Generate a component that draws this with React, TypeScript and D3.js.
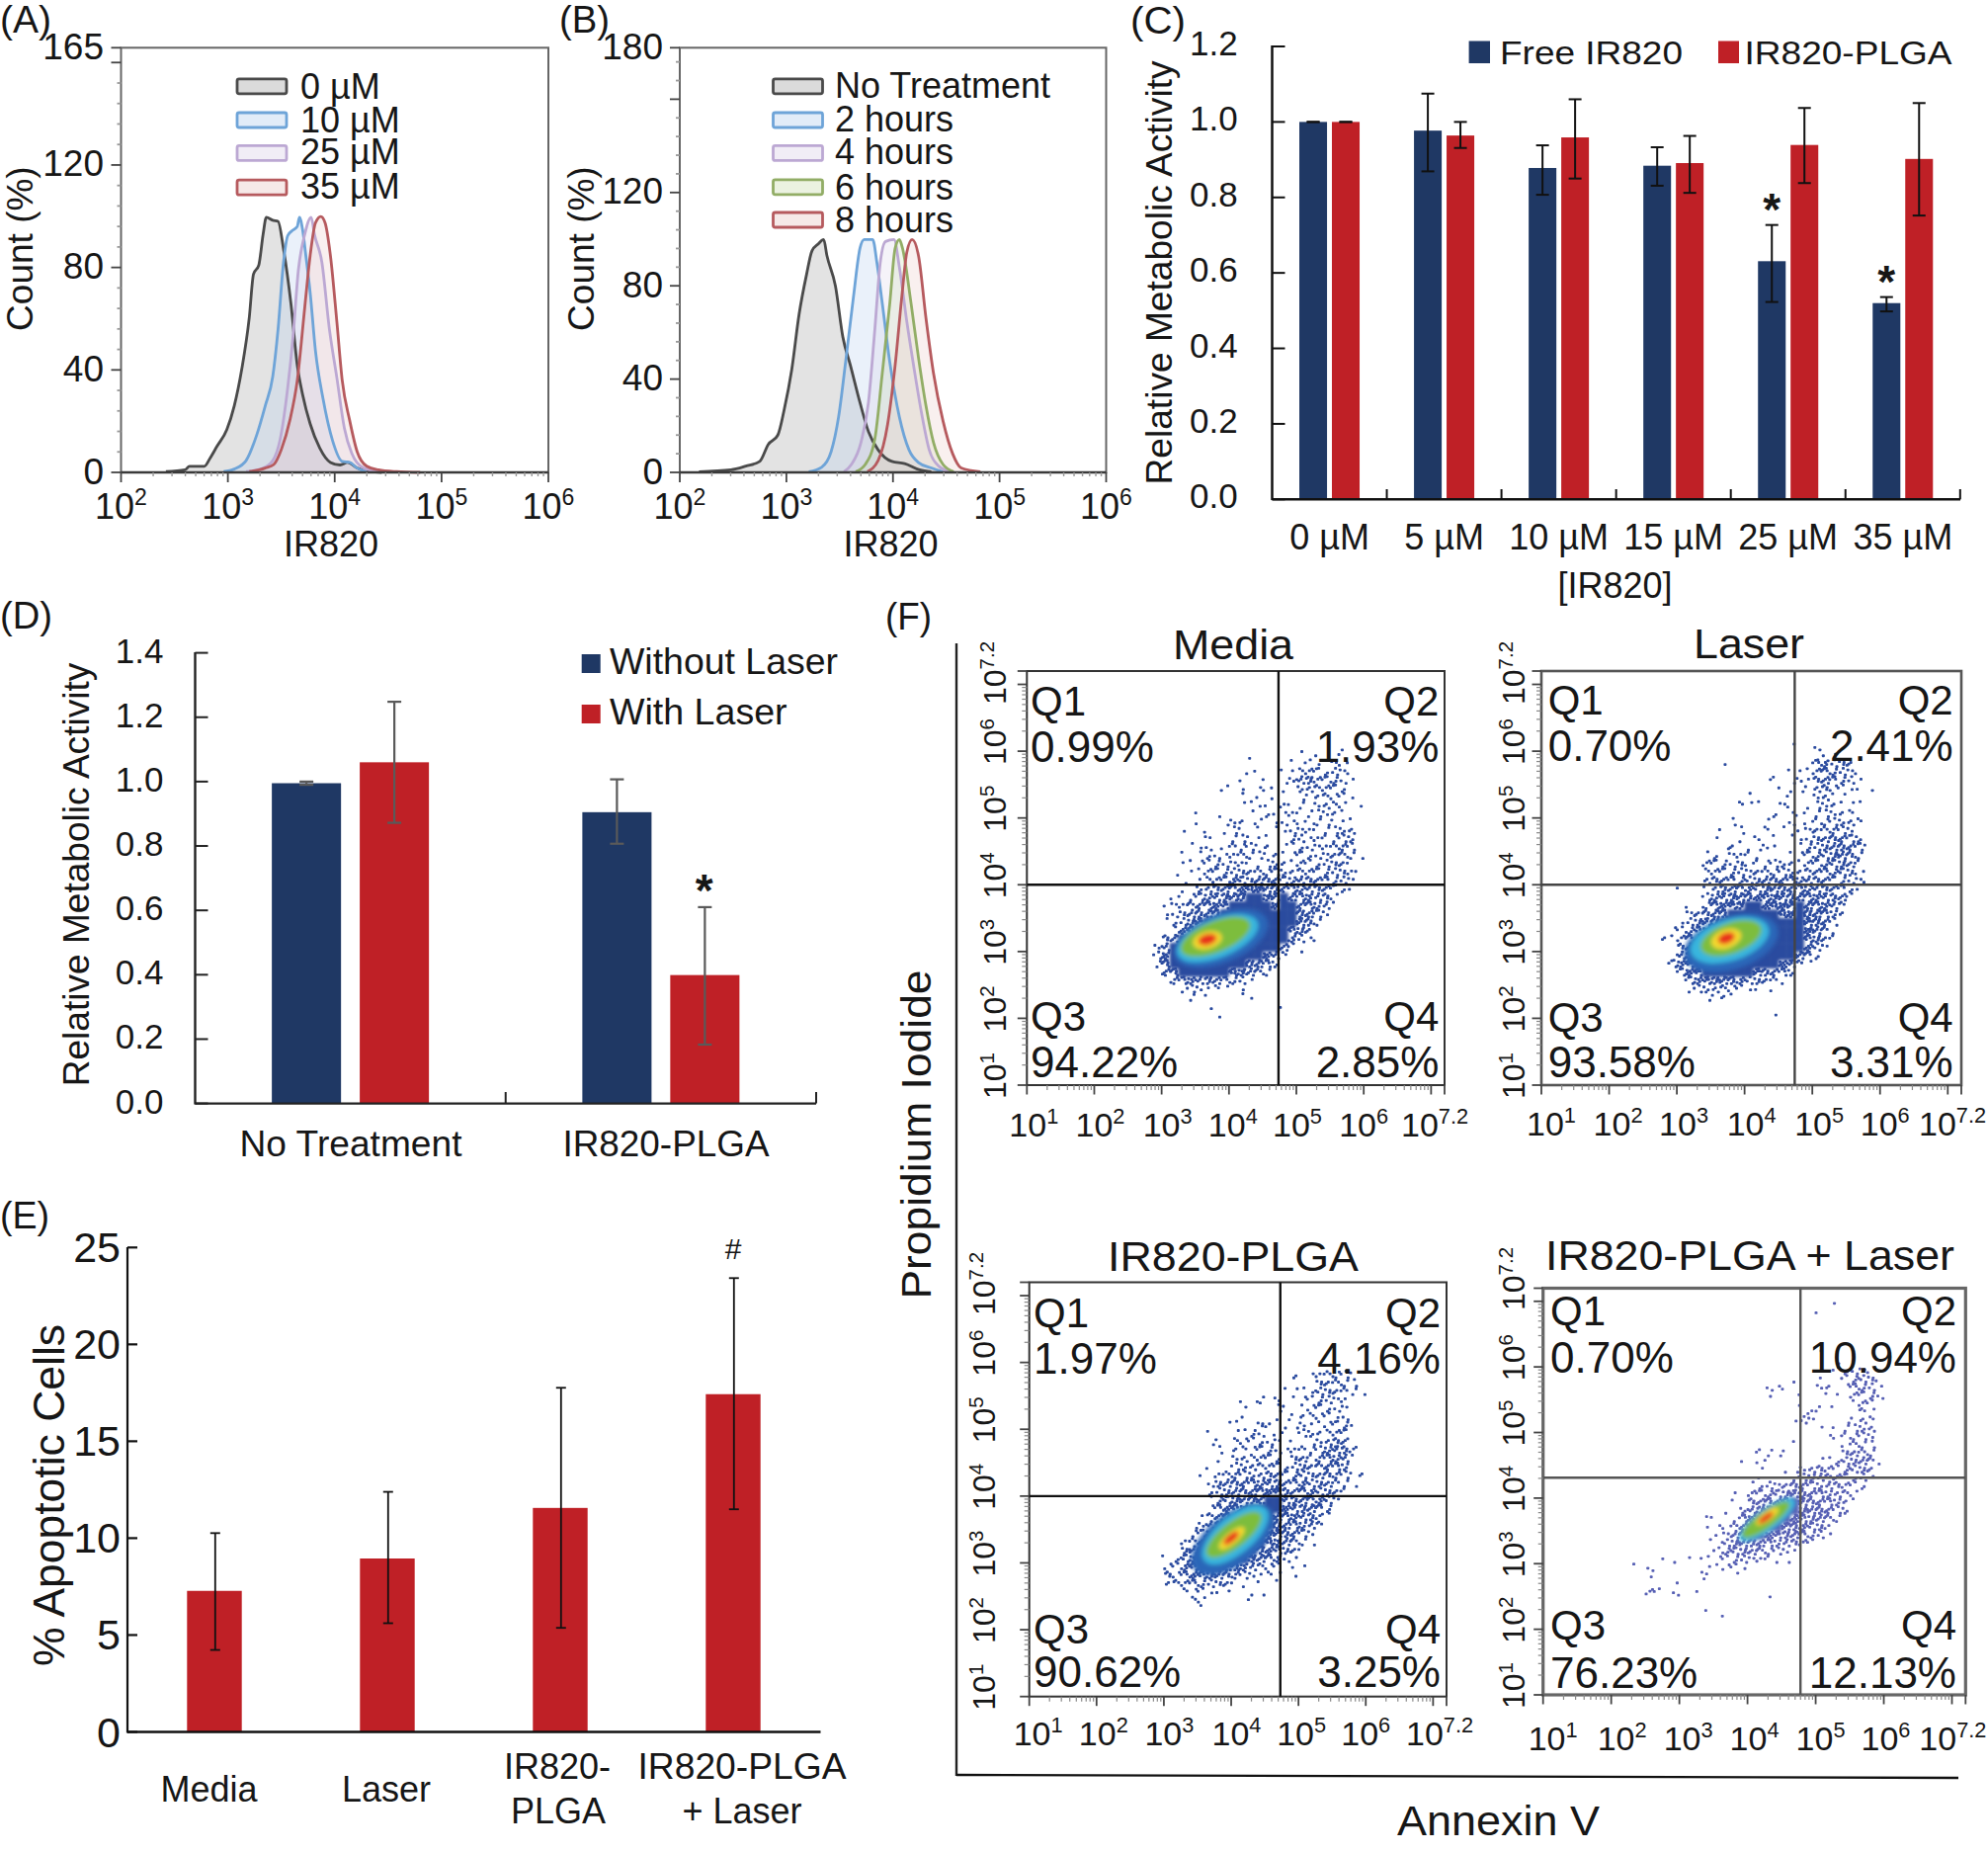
import React from 'react';
import * as d3 from 'd3';

// ---------- (A) histogram curves: [log10 IR820, count %] ----------
const histA0: number[][] = [[2.42,.3],[2.6,1],[2.64,2.4],[2.78,2.4],[2.83,5.3],[2.9,10.3],[2.99,16.7],[3.06,26],[3.13,40.3],[3.2,60.3],[3.24,77.4],[3.29,81],[3.33,93],[3.36,99.6],[3.42,98.4],[3.47,98],[3.52,87.4],[3.59,66],[3.65,41.7],[3.7,30.3],[3.77,19],[3.86,9.5],[3.96,3.9],[4.05,2.9],[4.12,3.9],[4.21,1.7],[4.34,.3],[4.44,0]];
const histA10: number[][] = [[2.96,.3],[3.06,1.3],[3.17,4.6],[3.27,14.6],[3.35,26],[3.42,37.4],[3.47,56],[3.52,81.7],[3.56,92.4],[3.61,94.6],[3.65,96],[3.67,99.6],[3.7,94.6],[3.73,84.6],[3.77,70.3],[3.82,47.4],[3.89,28.9],[3.98,12.4],[4.07,4.3],[4.14,3.9],[4.21,1.7],[4.3,.3]];
const histA25: number[][] = [[3.17,.3],[3.31,1.3],[3.42,4.6],[3.49,13],[3.56,33],[3.61,53],[3.66,79],[3.72,93],[3.78,99.6],[3.81,93],[3.88,82],[3.95,56],[4.02,37],[4.09,17.4],[4.16,7.4],[4.27,1.7],[4.41,.3]];
const histA35: number[][] = [[3.2,.3],[3.35,1.7],[3.43,3.1],[3.5,8.9],[3.58,20.3],[3.65,36],[3.72,64.6],[3.77,84.6],[3.82,97.4],[3.87,99.9],[3.91,97.4],[3.96,84.6],[4.02,58.9],[4.07,36],[4.14,20.3],[4.21,8.1],[4.3,2.4],[4.41,1],[4.58,.3],[4.8,0]];
const legendA = ['0 µM', '10 µM', '25 µM', '35 µM'];

// ---------- (B) histogram curves ----------
const histBNone: number[][] = [[2.18,.3],[2.48,1.1],[2.62,2.7],[2.75,4.7],[2.83,12],[2.92,16],[2.98,27],[3.05,44],[3.12,68],[3.19,85],[3.24,95],[3.3,98],[3.35,99.8],[3.38,93],[3.46,80],[3.53,58],[3.6,46],[3.69,30],[3.77,17.5],[3.86,9.7],[3.99,4.7],[4.11,3.8],[4.25,1.1],[4.36,.3]];
const histB2: number[][] = [[3.21,.3],[3.33,2.2],[3.42,8.9],[3.49,23.8],[3.56,49],[3.63,75.5],[3.69,96],[3.73,99.8],[3.81,99.8],[3.85,89.7],[3.9,72.4],[3.97,47.3],[4.06,23.8],[4.15,9.7],[4.24,4.2],[4.36,1.9],[4.47,.3]];
const histB4: number[][] = [[3.54,.3],[3.61,3.4],[3.7,12.9],[3.77,30],[3.83,61.4],[3.88,89.7],[3.93,99],[4.01,99.8],[4.06,88],[4.13,64.6],[4.2,44],[4.27,25],[4.34,9.7],[4.43,2.7],[4.54,.3]];
const histB6: number[][] = [[3.65,.3],[3.74,3.4],[3.83,14.4],[3.9,42.6],[3.97,72.4],[4.02,96],[4.06,99.8],[4.09,96],[4.17,72.4],[4.24,49],[4.31,28.5],[4.38,12.9],[4.47,3.4],[4.57,.3]];
const histB8: number[][] = [[3.76,.3],[3.86,5],[3.95,20.7],[4.02,45.8],[4.08,74],[4.13,94.4],[4.18,99.8],[4.24,92.8],[4.31,66],[4.38,42.6],[4.47,22],[4.56,8],[4.64,1.9],[4.82,.3]];
const legendB = ['No Treatment', '2 hours', '4 hours', '6 hours', '8 hours'];

// ---------- (C) ----------
const catsC = ['0 µM', '5 µM', '10 µM', '15 µM', '25 µM', '35 µM'];
const freeIR = [1.0, 0.977, 0.878, 0.884, 0.631, 0.52];
const freeHi = [1.0, 1.075, 0.938, 0.933, 0.727, 0.536];
const freeLo = [1.0, 0.869, 0.807, 0.831, 0.523, 0.498];
const plgaIR = [1.0, 0.964, 0.959, 0.891, 0.939, 0.902];
const plgaHi = [1.0, 1.0, 1.06, 0.963, 1.037, 1.05];
const plgaLo = [1.0, 0.931, 0.85, 0.812, 0.838, 0.752];
const ticksC = [0, 0.2, 0.4, 0.6, 0.8, 1.0, 1.2];

// ---------- (D) ----------
const catsD = ['No Treatment', 'IR820-PLGA'];
const noLaser = [0.995, 0.905];
const noLaserHi = [1.0, 1.007];
const noLaserLo = [0.99, 0.807];
const withLaser = [1.06, 0.399];
const withLaserHi = [1.248, 0.61];
const withLaserLo = [0.872, 0.183];
const ticksD = [0, 0.2, 0.4, 0.6, 0.8, 1.0, 1.2, 1.4];

// ---------- (E) ----------
const catsE = ['Media', 'Laser', 'IR820-PLGA', 'IR820-PLGA + Laser'];
const apop = [7.28, 8.95, 11.56, 17.43];
const apopHi = [10.26, 12.39, 17.76, 23.42];
const apopLo = [4.23, 5.61, 5.37, 11.49];
const ticksE = [0, 5, 10, 15, 20, 25];

// ---------- (F) ----------
const flowTitles = ['Media', 'Laser', 'IR820-PLGA', 'IR820-PLGA + Laser'];
const flowPct = [
  ['0.99%', '1.93%', '94.22%', '2.85%'],
  ['0.70%', '2.41%', '93.58%', '3.31%'],
  ['1.97%', '4.16%', '90.62%', '3.25%'],
  ['0.70%', '10.94%', '76.23%', '12.13%'],
];
const flowExp = [1, 2, 3, 4, 5, 6, 7.2];
const gateX = [4.735, 4.74, 4.73, 4.777];
const gateY = [4.0, 4.0, 4.0, 4.31];
// Density in 1/8-decade cells: '.' none, 1-9 dots in the cell, '#' solid.
const gridOrigin = [[2.875, 6.125], [2.75, 6.125], [2.75, 5.875], [2.25, 7.0]];
const gridMedia = [
  '......................1',
  '...........1.....1.1..1',
  '................1.21.211',
  '...........11..112332321',
  '..........1..1.125633421',
  '........2.1.1111.333332',
  '..........1.1.1..1123221',
  '..........1111.212.2322.1',
  '.....1.1...1.2112122221',
  '.....1..122.2.1211131111',
  '...1..1.121.1.1122212233',
  '......2..22111..33122233',
  '....112.132312.112222343',
  '...1.12212332121132223431',
  '...111232221123213223331',
  '..1.113333333343233333321',
  '...1.1233553555445444332',
  '...1.3345578866555544321',
  '..112456679##77#756442',
  '.12245677#####8##56541',
  '.1235678#########7642',
  '.12368###########763',
  '..168###########763',
  '.46#############5311',
  '25#############52',
  '37###########752.1',
  '27#########8753',
  '.57######87543',
  '..4565654431',
  '...132121.1',
  '....2.1...11',
  '......1........1',
  '.......1',
];
const gridLaser = [
  '...............1..2',
  '...................11',
  '.......1..........45333',
  '...............111354321',
  '.............2.121454331',
  '..............1111342211.1',
  '..........1....1..2311',
  '.........211..21.1222111',
  '.............2.11122222',
  '........2...1..2.1233332',
  '.......1.2..2.1.1233432',
  '......1..1.2.1.112345543',
  '........3.1121..133456541',
  '.....12.2221...113445653',
  '.....3332312233213345542',
  '.....23333233333234445411',
  '.....34443445555554433221',
  '..1..1355555566655544421',
  '.....356677777777666552',
  '...1.36788##8888#76653',
  '...23578######88#87642',
  '..13578##########8753',
  '.12468###########8641',
  '21358############7632',
  '..46#############642',
  '..57############752',
  '.468##########8631',
  '..478######86553',
  '...467777544331',
  '...133332211.1',
  '.....1121',
  '',
  '.............1',
];
const gridPlga = [
  '.................2.123331',
  '....................33332',
  '................1111433321',
  '...........1.3.2.1123322',
  '...........1...21.123222',
  '...........1...111222212',
  '.........11..32.112112331',
  '.......1..1132.11.332233',
  '.......11.222222.1.12344',
  '........2.221332123235653',
  '........1.232332.34245551',
  '.......1..33333323434554',
  '......1.234333443343454312',
  '.......245555566445444321',
  '.......23455667854554432',
  '.......1356678##6565542',
  '.......14678####766653',
  '......13578####8665531',
  '.....12568#####865543',
  '.....2468#####886542',
  '....2368######875431',
  '....468######866431',
  '.1.257######865521',
  '..22578##8864322.11',
  '..42467665432121.1',
  '..2334433311.1.1',
  '....212111..11',
  '.....22.....1',
  '......1',
];
const gridPlgaLaser = [
  '........................1',
  '......................1',
  '',
  '',
  '',
  '',
  '......................1',
  '........................1',
  '........................22221',
  '...................1..1..23431',
  '................211...22.14431',
  '................1...1..11.3332',
  '....................1.11..132',
  '.....................21....31',
  '...................132...1132',
  '......................1.12233',
  '.......................112332',
  '...................1.....1332',
  '...............2211......3433',
  '.............1.11.....11244541',
  '...............1..11234323443',
  '...............1...1344343231',
  '..............12323554344322',
  '............1.3345576554332',
  '............1.45678#7555421',
  '...........1.3578###666533',
  '.........2..157####865543',
  '.........111368###875542',
  '..........1257##87665431',
  '.........1.45676544432',
  '..........2455443321',
  '....11.111123322211',
  '1.2......11221',
  '..1.....21..1',
  '.....1',
  '..32.2..1',
  '................1',
  '.........1',
  '...........1',
];
const flowGrids = [gridMedia, gridLaser, gridPlga, gridPlgaLaser];
// Density core ellipses, outer to inner: [log x, log y, radius x, radius y, tilt]
const coreMedia = [[3.88,3.2,.74,.37,-22],[3.83,3.2,.64,.29,-22],[3.8,3.22,.55,.23,-22],[3.68,3.17,.22,.13,-15],[3.68,3.18,.14,.08,-15]];
const coreLaser = [[3.8,3.13,.72,.4,-18],[3.78,3.17,.6,.31,-18],[3.8,3.2,.47,.23,-20],[3.73,3.19,.23,.14,-20],[3.73,3.2,.13,.08,-20]];
const corePlga = [[4.02,3.35,.72,.38,-38],[4.06,3.42,.6,.28,-40],[4.04,3.42,.5,.19,-38],[4.01,3.37,.24,.09,-40],[4,3.37,.14,.055,-40]];
const corePlgaLaser = [[4.29,3.67,.5,.17,-36],[4.27,3.67,.42,.125,-36],[4.29,3.72,.2,.07,-36],[4.27,3.7,.13,.045,-36]];
const flowCores = [coreMedia, coreLaser, corePlga, corePlgaLaser];

// ---------- styles ----------
const FONT = '"Liberation Sans", Arial, sans-serif';
const INK = '#161616';
const NAVY = '#1f3864';
const RED = '#bf2026';
const HIST_STROKES = ['#4a4a4a', '#6ea4d8', '#bca8d3', '#92ad66', '#b65a5e'];
const HIST_FILLS = ['#bdbdbd', '#b9d2ee', '#d9cfe6', '#cfe0b8', '#e8c9c6'];
const HIST_OPAC = [0.42, 0.3, 0.25, 0.3, 0.28];
const CORE_COLORS = ['#2c66b8', '#38b6de', '#7dbd3e', '#f4d92e', '#e8301f'];
const CORE_COLORS_LAST = ['#38b6de', '#7dbd3e', '#f4d92e', '#e8301f'];
const DOT_PATTERN = [[.2,.25],[.7,.6],[.45,.85],[.85,.15],[.1,.7],[.55,.35],[.3,.55],[.9,.85],[.65,.05],[.05,.4],[.4,.1],[.75,.35]];

type TP = { x: number; y: number; s: number; a?: string; w?: number; rot?: boolean; weight?: string; children: any };
const T = ({ x, y, s, a = 'start', w, rot, weight, children }: TP) => (
  <text
    x={rot ? 0 : x}
    y={rot ? 0 : y}
    transform={rot ? `translate(${x},${y}) rotate(-90)` : undefined}
    fontFamily={FONT}
    fontSize={s}
    fontWeight={weight}
    fill={INK}
    textAnchor={a}
    textLength={w}
    lengthAdjust={w ? 'spacingAndGlyphs' : undefined}
  >
    {children}
  </text>
);

const Pow = ({ x, y, s, sup, a = 'middle', rot }: { x: number; y: number; s: number; sup: any; a?: string; rot?: boolean }) => (
  <text
    x={rot ? 0 : x}
    y={rot ? 0 : y}
    transform={rot ? `translate(${x},${y}) rotate(-90)` : undefined}
    fontFamily={FONT}
    fontSize={s}
    fill={INK}
    textAnchor={a}
  >
    10
    <tspan dy={-s * 0.38} fontSize={s * 0.64}>
      {sup}
    </tspan>
  </text>
);

const Err = ({ x, y0, y1, cap, color, w }: { x: number; y0: number; y1: number; cap: number; color: string; w: number }) => (
  <g stroke={color} strokeWidth={w} fill="none">
    <line x1={x} x2={x} y1={y0} y2={y1} />
    <line x1={x - cap / 2} x2={x + cap / 2} y1={y0} y2={y0} />
    <line x1={x - cap / 2} x2={x + cap / 2} y1={y1} y2={y1} />
  </g>
);

type HistProps = {
  frame: number[];
  top: number;
  topY: number;
  curves: number[][][];
  colorIdx: number[];
  yLabels: number[];
  legend: string[];
  legX: number;
  legYs: number[];
  legTextX: number;
  legBase: number[];
  labelX: number;
  xTitleX: number;
  tickRight: number;
};

function Hist(p: HistProps) {
  const [L, R, Tp, B] = p.frame;
  const x = d3.scaleLinear().domain([2, 6]).range([L, R]);
  const y = d3.scaleLinear().domain([0, p.top]).range([B, p.topY]);
  const line = d3.line<number[]>().x((d) => x(d[0])).y((d) => y(d[1])).curve(d3.curveMonotoneX);
  const area = d3.area<number[]>().x((d) => x(d[0])).y0(B).y1((d) => y(d[1])).curve(d3.curveMonotoneX);
  const yt = d3.range(0, p.top, 8);
  const decades = d3.range(2, 7);
  return (
    <g>
      {p.curves.map((c, i) => (
        <path key={i} d={area(c) as string} fill={HIST_FILLS[p.colorIdx[i]]} fillOpacity={HIST_OPAC[p.colorIdx[i]]} />
      ))}
      {p.curves.map((c, i) => (
        <path key={i} d={line(c) as string} fill="none" stroke={HIST_STROKES[p.colorIdx[i]]} strokeWidth={2.8} />
      ))}
      <rect x={L} y={Tp} width={R - L} height={B - Tp} fill="none" stroke="#666" strokeWidth={2} />
      <line x1={L} x2={R} y1={B} y2={B} stroke="#3a3a3a" strokeWidth={2.4} />
      {yt.map((v) => (
        <line key={v} x1={L - (v % 40 === 0 ? 10 : 4)} x2={L} y1={y(v)} y2={y(v)} stroke={v % 40 === 0 ? '#444' : '#999'} strokeWidth={1.8} />
      ))}
      <line x1={L - 10} x2={L} y1={Tp} y2={Tp} stroke="#444" strokeWidth={1.8} />
      {decades.map((d) => (
        <g key={d}>
          <line x1={x(d)} x2={x(d)} y1={B} y2={B + 10} stroke="#444" strokeWidth={1.8} />
          {d < 6 &&
            d3.range(2, 10).map((m) => (
              <line key={m} x1={x(d + Math.log10(m))} x2={x(d + Math.log10(m))} y1={B} y2={B + 4} stroke="#999" strokeWidth={1.4} />
            ))}
          <Pow x={x(d)} y={525} s={36} sup={d} />
        </g>
      ))}
      {p.yLabels.map((v) => (
        <T key={v} x={p.tickRight} y={v === p.top ? Tp + 11.5 : y(v) + 11.5} s={37} a="end">
          {v}
        </T>
      ))}
      <T x={p.xTitleX} y={562.6} s={36} a="middle">
        IR820
      </T>
      <T x={p.labelX} y={251.6} s={37} a="middle" rot>
        Count (%)
      </T>
      {p.legend.map((t, i) => (
        <g key={t}>
          <rect
            x={p.legX}
            y={p.legYs[i]}
            width={50}
            height={15}
            rx={2}
            fill={HIST_FILLS[p.colorIdx[i]]}
            fillOpacity={HIST_OPAC[p.colorIdx[i]] + 0.12}
            stroke={HIST_STROKES[p.colorIdx[i]]}
            strokeWidth={2.8}
          />
          <T x={p.legTextX} y={p.legBase[i]} s={36}>
            {t}
          </T>
        </g>
      ))}
    </g>
  );
}

const flowLayout = [
  { L: 1039.3, R: 1462, Tp: 679, B: 1098, sw: 2, frame: '#333', gate: '#111', gw: 2.4, qL: 1043, qR: 1456.4, q1: 45, p1: 92, q3: 55.5, p3: 8, xBase: 1149.6, yBase: 1018, lastDy: 34, title: 1248, titleY: 666.6, titleW: 122, dxs: [-18, -19, -19, -21, -24, -25, -44], opac: 1 },
  { L: 1560, R: 1985, Tp: 679, B: 1098, sw: 2.6, frame: '#555', gate: '#444', gw: 2.4, qL: 1566.7, qR: 1976.7, q1: 44, p1: 91, q3: 54, p3: 8, xBase: 1149, yBase: 1543, lastDy: 34, title: 1770, titleY: 665.5, titleW: 112, dxs: [-15, -16, -18, -18, -18, -20, -43], opac: 1 },
  { L: 1041.7, R: 1464, Tp: 1297.5, B: 1716.7, sw: 2, frame: '#333', gate: '#111', gw: 2.4, qL: 1046, qR: 1458, q1: 45, p1: 92, q3: 54, p3: 10, xBase: 1765.7, yBase: 1006.7, lastDy: 33.5, title: 1248, titleY: 1285.6, titleW: 254, dxs: [-16, -18, -19.5, -19.5, -22, -25, -41], opac: 1 },
  { L: 1561.7, R: 1989.3, Tp: 1303.5, B: 1715, sw: 3.2, frame: '#666', gate: '#555', gw: 2.4, qL: 1569, qR: 1980, q1: 37.5, p1: 85, q3: 56, p3: 7.5, xBase: 1770.8, yBase: 1543.3, lastDy: 22.5, title: 1771, titleY: 1285, titleW: 414, dxs: [-15, -14, -16, -18, -20, -23, -47], opac: 0.85 },
];

function Flow({ i }: { i: number }) {
  const l = flowLayout[i];
  const x = d3.scaleLinear().domain([1, 7.2]).range([l.L, l.R]);
  const y = d3.scaleLinear().domain([1, 7.2]).range([l.B, l.Tp]);
  const cw = x(1.125) - x(1);
  const ch = y(1) - y(1.125);
  const [x0, yTop] = gridOrigin[i];
  const solid: any[] = [];
  const dots: any[] = [];
  flowGrids[i].forEach((row, r) => {
    row.split('').forEach((c, k) => {
      if (c === '.') return;
      const px = x(x0 + k / 8);
      const py = y(yTop - r / 8);
      if (c === '#') {
        solid.push(<rect key={`${r}-${k}`} x={px - 0.3} y={py - 0.3} width={cw + 0.6} height={ch + 0.6} />);
      } else {
        const off = (k * 5 + r * 7) % DOT_PATTERN.length;
        for (let n = 0; n < +c; n++) {
          const q = DOT_PATTERN[(off + n) % DOT_PATTERN.length];
          dots.push(<rect key={`${r}-${k}-${n}`} x={px + q[0] * cw - 1.5} y={py + q[1] * ch - 1.4} width={3} height={2.8} rx={0.9} />);
        }
      }
    });
  });
  const cols = flowCores[i].length === 4 ? CORE_COLORS_LAST : CORE_COLORS;
  const dec = d3.range(1, 8);
  const pct = flowPct[i];
  return (
    <g>
      <g fill={i === 3 ? '#3a45a8' : '#2b4b9f'} opacity={l.opac}>
        <g filter="url(#soft15)">{solid}</g>
        {dots}
      </g>
      <g filter="url(#soft)">
        {flowCores[i].map((e, j) => (
          <ellipse
            key={j}
            cx={x(e[0])}
            cy={y(e[1])}
            rx={x(e[2] + 1) - x(1)}
            ry={y(1) - y(e[3] + 1)}
            transform={`rotate(${e[4]},${x(e[0])},${y(e[1])})`}
            fill={cols[j]}
          />
        ))}
      </g>
      <rect x={l.L} y={l.Tp} width={l.R - l.L} height={l.B - l.Tp} fill="none" stroke={l.frame} strokeWidth={l.sw} />
      <line x1={x(gateX[i])} x2={x(gateX[i])} y1={l.Tp} y2={l.B} stroke={l.gate} strokeWidth={l.gw} />
      <line x1={l.L} x2={l.R} y1={y(gateY[i])} y2={y(gateY[i])} stroke={l.gate} strokeWidth={l.gw} />
      {dec.map((d) => (
        <g key={d} stroke="#444">
          <line x1={x(d)} x2={x(d)} y1={l.B} y2={l.B + 9.5} strokeWidth={1.8} />
          <line x1={l.L - 9.5} x2={l.L} y1={y(d)} y2={y(d)} strokeWidth={1.8} />
          {d < 7 &&
            d3.range(2, 10).map((m) => (
              <g key={m} stroke="#888" strokeWidth={1.2}>
                <line x1={x(d + Math.log10(m))} x2={x(d + Math.log10(m))} y1={l.B} y2={l.B + 5} />
                <line x1={l.L - 5} x2={l.L} y1={y(d + Math.log10(m))} y2={y(d + Math.log10(m))} />
              </g>
            ))}
        </g>
      ))}
      <line x1={l.R} x2={l.R} y1={l.B} y2={l.B + 9.5} stroke="#444" strokeWidth={1.8} />
      <line x1={l.L - 9.5} x2={l.L} y1={l.Tp} y2={l.Tp} stroke="#444" strokeWidth={1.8} />
      {flowExp.map((e, j) => (
        <g key={e}>
          <Pow x={x(e) + l.dxs[j]} y={l.xBase} s={34} sup={e} a="start" />
          <Pow x={l.yBase} y={j === 6 ? l.Tp + l.lastDy : y(e) + 14} s={32} sup={e} a="start" rot />
        </g>
      ))}
      <T x={l.title} y={l.titleY} s={42} a="middle" w={l.titleW}>
        {flowTitles[i]}
      </T>
      <T x={l.qL} y={l.Tp + l.q1} s={42}>Q1</T>
      <T x={l.qL} y={l.Tp + l.p1} s={44}>{pct[0]}</T>
      <T x={l.qR} y={l.Tp + l.q1} s={42} a="end">Q2</T>
      <T x={l.qR} y={l.Tp + l.p1} s={44} a="end">{pct[1]}</T>
      <T x={l.qL} y={l.B - l.q3} s={42}>Q3</T>
      <T x={l.qL} y={l.B - l.p3} s={44}>{pct[2]}</T>
      <T x={l.qR} y={l.B - l.q3} s={42} a="end">Q4</T>
      <T x={l.qR} y={l.B - l.p3} s={44} a="end">{pct[3]}</T>
    </g>
  );
}

function PanelC() {
  const x = d3.scaleBand<string>().domain(catsC).range([1287.5, 1983.8]);
  const sub = d3.scaleBand<string>().domain(['free', 'plga']).range([-30.5, 30.5]).paddingInner(0.15);
  const y = d3.scaleLinear().domain([0, 1.2]).range([505.3, 47]);
  const cx = (c: string) => (x(c) as number) + x.bandwidth() / 2;
  const bw = sub.bandwidth();
  const stars = [4, 5];
  const starY = [201.7, 275];
  return (
    <g>
      {catsC.map((c, i) => (
        <g key={c}>
          <rect x={cx(c) + (sub('free') as number)} y={y(freeIR[i])} width={bw} height={y(0) - y(freeIR[i])} fill={NAVY} />
          <rect x={cx(c) + (sub('plga') as number)} y={y(plgaIR[i])} width={bw} height={y(0) - y(plgaIR[i])} fill={RED} />
          <Err x={cx(c) + (sub('free') as number) + bw / 2} y0={y(freeHi[i])} y1={y(freeLo[i])} cap={13} color="#111" w={2} />
          <Err x={cx(c) + (sub('plga') as number) + bw / 2} y0={y(plgaHi[i])} y1={y(plgaLo[i])} cap={13} color="#111" w={2} />
          <T x={cx(c)} y={555.6} s={36} a="middle">{c}</T>
          <line x1={(x(c) as number) + x.bandwidth()} x2={(x(c) as number) + x.bandwidth()} y1={505.3} y2={495} stroke="#111" strokeWidth={2} />
        </g>
      ))}
      <line x1={1287.5} x2={1287.5} y1={46} y2={506} stroke="#111" strokeWidth={2.5} />
      <line x1={1287.5} x2={1984} y1={505.3} y2={505.3} stroke="#111" strokeWidth={2.5} />
      {ticksC.map((v) => (
        <g key={v}>
          <line x1={1287.5} x2={1300.5} y1={y(v)} y2={y(v)} stroke="#111" strokeWidth={2} />
          <T x={1252.6} y={y(v) + 9} s={35} a="end">{v.toFixed(1)}</T>
        </g>
      ))}
      <T x={1186} y={276} s={36} a="middle" w={429} rot>Relative Metabolic Activity</T>
      <T x={1634.5} y={605} s={36} a="middle">[IR820]</T>
      {stars.map((k, i) => (
        <T key={k} x={cx(catsC[k]) + (sub('free') as number) + bw / 2} y={starY[i] + 26} s={46} a="middle" weight="bold">*</T>
      ))}
      <rect x={1486.6} y={41.5} width={21.4} height={22.5} fill={NAVY} />
      <rect x={1739} y={41.5} width={21} height={22.5} fill={RED} />
      <T x={1518} y={64.5} s={34} w={185}>Free IR820</T>
      <T x={1765.5} y={64.5} s={34} w={210}>IR820-PLGA</T>
    </g>
  );
}

function PanelD() {
  const x = d3.scaleBand<string>().domain(catsD).range([197.5, 826]);
  const sub = d3.scaleBand<string>().domain(['a', 'b']).range([-79.5, 79.5]).paddingInner(0.213);
  const y = d3.scaleLinear().domain([0, 1.4]).range([1116.6, 660.6]);
  const cx = (c: string) => (x(c) as number) + x.bandwidth() / 2;
  const bw = sub.bandwidth();
  return (
    <g>
      {catsD.map((c, i) => (
        <g key={c}>
          <rect x={cx(c) + (sub('a') as number)} y={y(noLaser[i])} width={bw} height={y(0) - y(noLaser[i])} fill={NAVY} />
          <rect x={cx(c) + (sub('b') as number)} y={y(withLaser[i])} width={bw} height={y(0) - y(withLaser[i])} fill={RED} />
          <Err x={cx(c) + (sub('a') as number) + bw / 2} y0={y(noLaserHi[i])} y1={y(noLaserLo[i])} cap={14} color="#5a5a5a" w={2.2} />
          <Err x={cx(c) + (sub('b') as number) + bw / 2} y0={y(withLaserHi[i])} y1={y(withLaserLo[i])} cap={14} color="#5a5a5a" w={2.2} />
          <line x1={(x(c) as number) + x.bandwidth()} x2={(x(c) as number) + x.bandwidth()} y1={1116.6} y2={1105} stroke="#222" strokeWidth={2} />
          <T x={i === 0 ? 355 : 674} y={1170} s={36} a="middle" w={i === 0 ? 225 : 209}>{c}</T>
        </g>
      ))}
      <line x1={197.5} x2={197.5} y1={660} y2={1117.6} stroke="#222" strokeWidth={2.4} />
      <line x1={197.5} x2={826} y1={1116.6} y2={1116.6} stroke="#222" strokeWidth={2.4} />
      {ticksD.map((v) => (
        <g key={v}>
          <line x1={197.5} x2={210.5} y1={y(v)} y2={y(v)} stroke="#222" strokeWidth={2} />
          <T x={165.5} y={y(v) + 10} s={35} a="end">{v.toFixed(1)}</T>
        </g>
      ))}
      <T x={89.8} y={885} s={36} a="middle" w={428.6} rot>Relative Metabolic Activity</T>
      <T x={712.7} y={917} s={46} a="middle" weight="bold">*</T>
      <rect x={588.7} y={662} width={19} height={19} fill={NAVY} />
      <rect x={588.7} y={713} width={19} height={19} fill={RED} />
      <T x={617} y={682.3} s={36} w={231}>Without Laser</T>
      <T x={617} y={733} s={36} w={179.6}>With Laser</T>
    </g>
  );
}

function PanelE() {
  const x = d3.scaleBand<string>().domain(catsE).range([129.5, 829.5]);
  const y = d3.scaleLinear().domain([0, 25]).range([1752.5, 1262.3]);
  const cx = (c: string) => (x(c) as number) + x.bandwidth() / 2;
  return (
    <g>
      {catsE.map((c, i) => (
        <g key={c}>
          <rect x={cx(c) - 27.7} y={y(apop[i])} width={55.4} height={y(0) - y(apop[i])} fill={RED} />
          <Err x={cx(c) + 0.8} y0={y(apopHi[i])} y1={y(apopLo[i])} cap={10} color="#111" w={1.8} />
        </g>
      ))}
      <line x1={129} x2={129} y1={1262} y2={1753.5} stroke="#111" strokeWidth={2.2} />
      <line x1={129} x2={830.5} y1={1752.5} y2={1752.5} stroke="#111" strokeWidth={2.4} />
      {ticksE.map((v) => (
        <g key={v}>
          <line x1={129} x2={139} y1={y(v)} y2={y(v)} stroke="#111" strokeWidth={2.2} />
          <T x={122} y={y(v) + 15} s={43} a="end">{v}</T>
        </g>
      ))}
      <T x={64.5} y={1513} s={44} a="middle" w={346} rot>% Apoptotic Cells</T>
      <T x={211.5} y={1823.4} s={36} a="middle">Media</T>
      <T x={391} y={1823.4} s={36} a="middle">Laser</T>
      <T x={564} y={1799.7} s={36} a="middle">IR820-</T>
      <T x={565} y={1845} s={36} a="middle">PLGA</T>
      <T x={751} y={1799.7} s={36} a="middle" w={211}>IR820-PLGA</T>
      <T x={751} y={1845} s={36} a="middle">+ Laser</T>
      <T x={742} y={1274} s={30} a="middle">#</T>
    </g>
  );
}

export default function App() {
  return (
    <svg width={2012} height={1874} viewBox="0 0 2012 1874" style={{ position: 'absolute', left: 0, top: 0, display: 'block', background: '#fff' }}>
      <defs>
        <filter id="soft" x="-20%" y="-20%" width="140%" height="140%">
          <feGaussianBlur stdDeviation="2" />
        </filter>
        <filter id="soft15" x="-10%" y="-10%" width="120%" height="120%">
          <feGaussianBlur stdDeviation="1.4" />
        </filter>
      </defs>
      <Hist
        frame={[122.5, 555, 48.3, 478]}
        top={165}
        topY={50.3}
        curves={[histA0, histA10, histA25, histA35]}
        colorIdx={[0, 1, 2, 4]}
        yLabels={[0, 40, 80, 120, 165]}
        legend={legendA}
        legX={240}
        legYs={[79.8, 114, 147.4, 182.2]}
        legTextX={304}
        legBase={[99.6, 133.9, 166.3, 200.6]}
        labelX={32.5}
        xTitleX={335}
        tickRight={105}
      />
      <Hist
        frame={[688, 1119.5, 48.3, 478]}
        top={180}
        topY={53.2}
        curves={[histBNone, histB2, histB4, histB6, histB8]}
        colorIdx={[0, 1, 2, 3, 4]}
        yLabels={[0, 40, 80, 120, 180]}
        legend={legendB}
        legX={782.5}
        legYs={[79.8, 114, 147.4, 181.8, 215]}
        legTextX={845}
        legBase={[99, 133.4, 165.8, 201.6, 234.9]}
        labelX={601}
        xTitleX={901.6}
        tickRight={671}
      />
      <PanelC />
      <PanelD />
      <PanelE />
      {flowLayout.map((_, i) => (
        <Flow key={i} i={i} />
      ))}
      <line x1={968} x2={968} y1={651} y2={1797} stroke="#222" strokeWidth={2.4} />
      <line x1={968} x2={1982} y1={1796} y2={1799} stroke="#111" strokeWidth={2.4} />
      <T x={942} y={1148} s={43} a="middle" w={333} rot>Propidium Iodide</T>
      <T x={1516.5} y={1856.5} s={42} a="middle" w={205}>Annexin V</T>
      <T x={0} y={32.9} s={38} w={52}>(A)</T>
      <T x={566} y={33} s={38} w={51}>(B)</T>
      <T x={1144} y={33.6} s={38} w={56}>(C)</T>
      <T x={0} y={636} s={38} w={53}>(D)</T>
      <T x={0} y={1243} s={38} w={50}>(E)</T>
      <T x={896} y={637} s={38} w={47}>(F)</T>
    </svg>
  );
}
